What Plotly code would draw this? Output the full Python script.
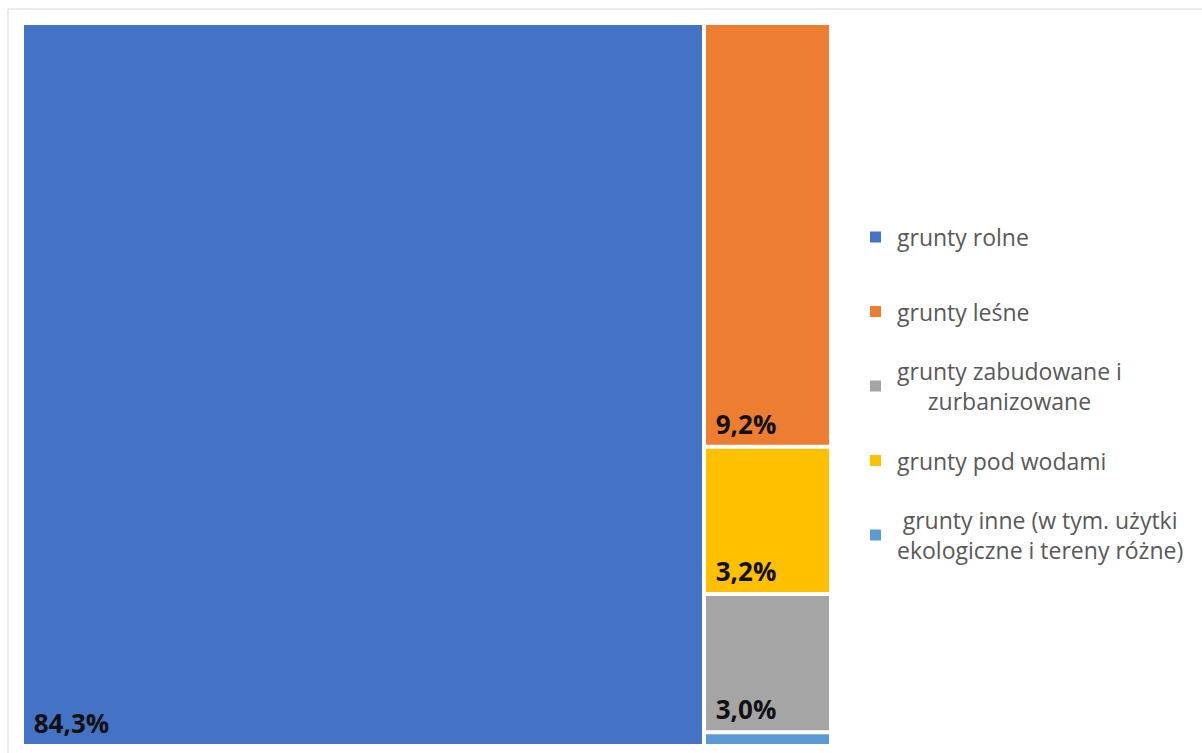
import plotly.graph_objects as go

# ---- data ----
categories = [
    "grunty rolne",
    "grunty leśne",
    "grunty zabudowane i zurbanizowane",
    "grunty pod wodami",
    "grunty inne (w tym. użytki ekologiczne i tereny różne)",
]
shares = [84.3, 9.2, 3.0, 3.2, 0.3]
colors = ["#4472C4", "#ED7D31", "#A5A5A5", "#FFC000", "#5B9BD5"]
legend_labels = [
    "grunty rolne",
    "grunty leśne",
    "grunty zabudowane i<br>zurbanizowane",
    "grunty pod wodami",
    "grunty inne (w tym. użytki<br>ekologiczne i tereny różne)",
]
# order of tiles: first category fills the left column, the rest are stacked on the right
right_column_order = [1, 3, 2, 4]

W, H = 1202, 753

ids, parents, values, tcolors, texts, labels = [], [], [], [], [], []


def fmt(v):
    return ("\u00a0" + f"{v:.1f}".replace(".", ",") + "%") if v >= 1 else ""


ids.append("c0"); parents.append(""); values.append(shares[0]); tcolors.append(colors[0])
texts.append(fmt(shares[0])); labels.append(categories[0])
ids.append("rest"); parents.append(""); values.append(0); tcolors.append("rgba(0,0,0,0)")
texts.append(""); labels.append("pozostałe")
for i in right_column_order:
    ids.append(f"c{i}"); parents.append("rest"); values.append(shares[i]); tcolors.append(colors[i])
    texts.append(fmt(shares[i])); labels.append(categories[i])

fig = go.Figure(
    go.Treemap(
        ids=ids,
        labels=labels,
        parents=parents,
        values=values,
        text=texts,
        branchvalues="remainder",
        sort=False,
        texttemplate="%{text}",
        textposition="bottom left",
        textfont=dict(family="Open Sans", size=26, color="#111111", weight="bold"),
        marker=dict(colors=tcolors, line=dict(width=0), pad=dict(t=0, l=0, r=0, b=0)),
        tiling=dict(packing="slice-dice", pad=4),
        pathbar=dict(visible=False),
        hoverinfo="skip",
        domain=dict(x=[24 / W, 829 / W], y=[1 - 744 / H, 1 - 25 / H]),
    )
)

shapes = [
    dict(type="rect", xref="paper", yref="paper", x0=8 / W, y0=-0.05, x1=1.05, y1=1 - 9 / H,
         line=dict(color="#D9D9D9", width=1), fillcolor="rgba(0,0,0,0)", layer="below")
]
annotations = []
for i, (lab, col) in enumerate(zip(legend_labels, colors)):
    yc = 237 + i * 74.5
    shapes.append(dict(type="rect", xref="paper", yref="paper",
                       x0=870 / W, x1=881 / W, y0=1 - (yc + 5.5) / H, y1=1 - (yc - 5.5) / H,
                       fillcolor=col, line=dict(width=0)))
    annotations.append(dict(xref="paper", yref="paper", x=895 / W, y=1 - yc / H,
                            xanchor="left", yanchor="middle", align="center", showarrow=False,
                            text=lab, font=dict(family="Open Sans", size=23, color="#595959")))

fig.update_layout(
    width=W, height=H,
    margin=dict(l=0, r=0, t=0, b=0),
    paper_bgcolor="white",
    plot_bgcolor="white",
    shapes=shapes,
    annotations=annotations,
    showlegend=False,
)

fig.write_html("out.html", config={"displayModeBar": False},
               post_script="document.body.style.margin='0';")
